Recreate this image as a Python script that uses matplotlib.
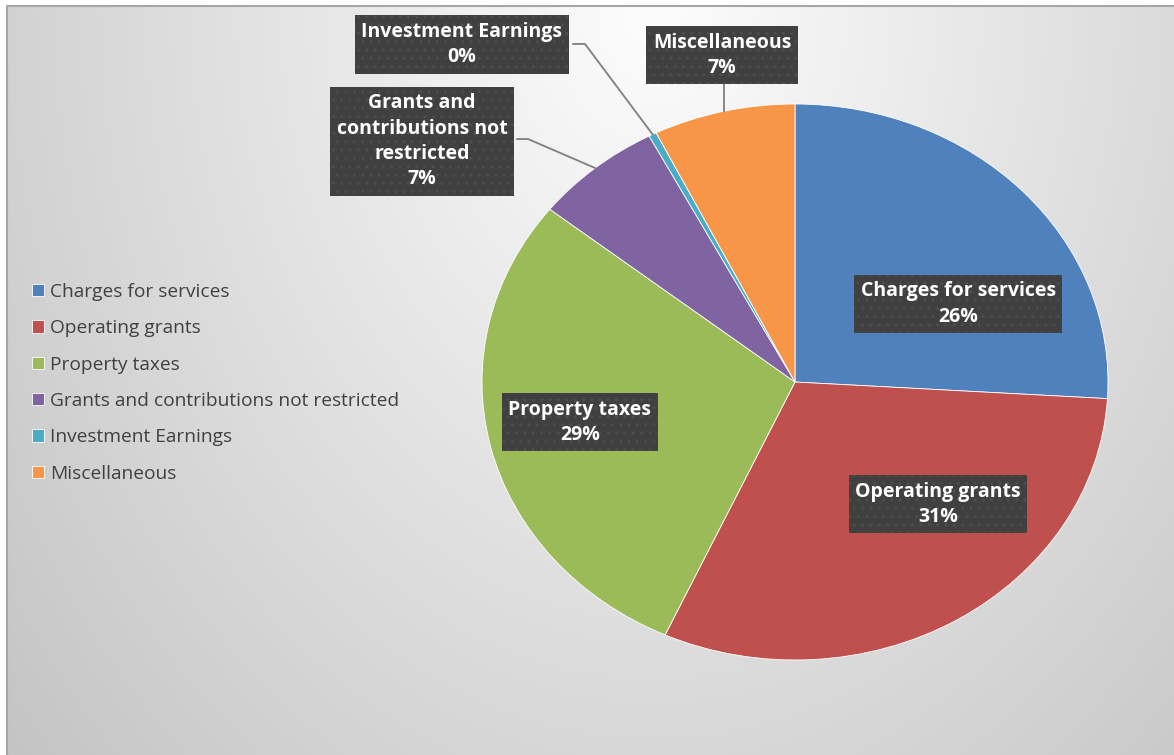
import numpy as np
import matplotlib
matplotlib.use("Agg")
import matplotlib.pyplot as plt

categories = ["Charges for services", "Operating grants", "Property taxes",
              "Grants and contributions not restricted", "Investment Earnings",
              "Miscellaneous"]
label_texts = ["Charges for services", "Operating grants", "Property taxes",
               "Grants and\ncontributions not\nrestricted", "Investment Earnings",
               "Miscellaneous"]
values = [25.9, 30.8, 28.8, 6.6, 0.4, 7.3]
colors = ["#4F81BD", "#C0504D", "#9BBB59", "#8064A2", "#4BACC6", "#F79646"]

W, H = 1174, 755
fig = plt.figure(figsize=(W / 100, H / 100), dpi=100)
fig.patch.set_facecolor("white")

# background gradient panel
bg = fig.add_axes([0, 0, 1, 1])
bg.set_xlim(0, W)
bg.set_ylim(H, 0)
bg.axis("off")
yy, xx = np.mgrid[0:H, 0:W]
d = np.sqrt(((xx - 650) / 620.0) ** 2 + ((yy - 0) / 820.0) ** 2)
v = np.clip(253 - 41 * d, 185, 252) / 255.0
img = np.dstack([v, v, v])
bg.imshow(img, extent=[7, W, H, 6], aspect="auto", zorder=0)
bg.plot([7, 7, W], [H, 6, 6], color="#a6a6a6", lw=1.5, zorder=1)

# pie
cx, cy, rx, ry = 795, 382, 313, 278
ax = fig.add_axes([(cx - rx) / W, (H - (cy + ry)) / H, 2 * rx / W, 2 * ry / H])
wedges, _ = ax.pie(values, colors=colors, startangle=90, counterclock=False,
                   radius=1.0, wedgeprops=dict(edgecolor="white", linewidth=0.6))
ax.set_xlim(-1, 1)
ax.set_ylim(-1, 1)
ax.set_aspect("auto")
ax.axis("off")

total = sum(values)
pcts = [f"{round(v_ / total * 100):d}%" for v_ in values]

# label positions (layout, data units of the pie axes)
label_pos = [(0.521, 0.280), (0.457, -0.440), (-0.687, -0.145),
             (-1.192, 0.866), (-1.064, 1.214), (-0.233, 1.175)]
box = dict(boxstyle="square,pad=0.33", facecolor="#404040", edgecolor="#4d4d4d",
           linewidth=0, hatch="..")
for i, (txt, p) in enumerate(zip(label_texts, pcts)):
    x, y = label_pos[i]
    ax.text(x, y, f"{txt}\n{p}", ha="center", va="center", color="white",
            fontsize=14, fontweight="bold", family="Open Sans", linespacing=1.36,
            bbox=box, clip_on=False, zorder=5)

# leader lines for outside labels
def mid_point(w):
    a = np.deg2rad((w.theta1 + w.theta2) / 2)
    return np.cos(a), np.sin(a)

lc = dict(color="#7f7f7f", lw=1.3, clip_on=False, zorder=4)
# Investment Earnings
mx, my = mid_point(wedges[4])
ax.plot([-0.709, -0.671, mx], [1.216, 1.216, my], **lc)
# Grants
mx, my = mid_point(wedges[3])
ax.plot([-0.888, -0.853, mx], [0.874, 0.874, my], **lc)
# Miscellaneous
mx, my = mid_point(wedges[5])
ax.plot([mx, mx], [1.072, my], **lc)

# legend
leg = ax.legend(wedges, categories, loc="upper left",
                bbox_to_anchor=(32 / W, 1 - 283 / H), bbox_transform=fig.transFigure,
                frameon=False, labelcolor="#404040",
                prop=dict(family="Open Sans", size=13.75),
                handlelength=0.62, handleheight=0.62, handletextpad=0.33,
                labelspacing=0.96, borderpad=0, borderaxespad=0)

fig.savefig("out.png", dpi=100)
